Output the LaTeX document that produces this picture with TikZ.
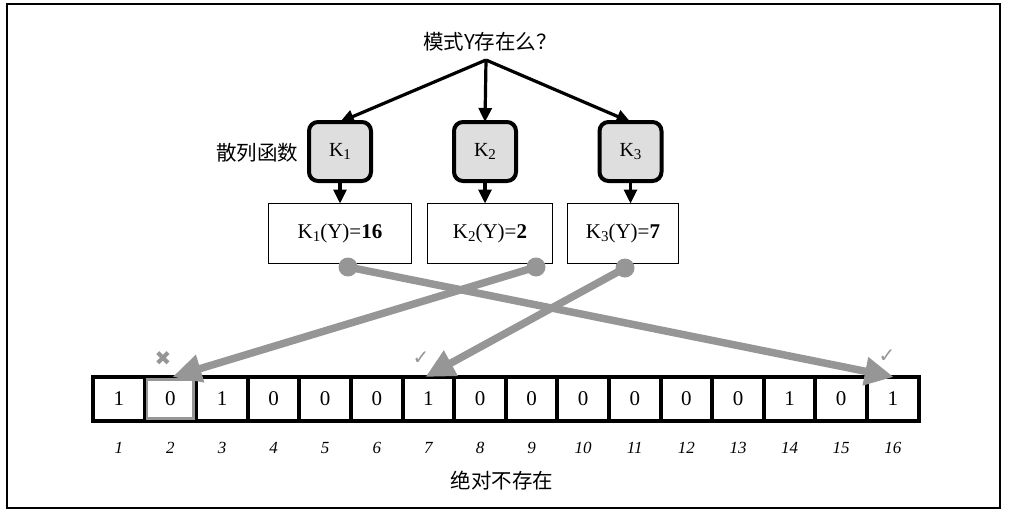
\documentclass[tikz,border=0pt]{standalone}
\usepackage{fontspec}
\setmainfont{Liberation Serif}
\newfontfamily\cjk{Noto Sans CJK SC}
\newfontfamily\symf{DejaVu Sans}
\usetikzlibrary{arrows.meta}
\definecolor{arrgray}{RGB}{150,150,150}
\definecolor{kfill}{RGB}{222,222,222}
\newcommand\ksub[1]{\raisebox{-0.35ex}{\fontsize{15}{15}\selectfont #1}}
\tikzset{
  kbox/.style={draw, line width=4pt, rounded corners=9pt, fill=kfill, minimum width=62pt, minimum height=59pt, inner sep=0pt, outer sep=0pt, font=\fontsize{20}{20}\selectfont},
  rbox/.style={draw, line width=1.6pt, minimum height=60pt, inner sep=0pt, outer sep=0pt, font=\fontsize{21}{21}\selectfont},
  cell/.style={draw, line width=4pt, minimum width=51.6pt, minimum height=44pt, inner sep=0pt, outer sep=0pt, font=\fontsize{21}{21}\selectfont},
  idx/.style={font=\fontsize{17}{17}\selectfont\itshape},
  cjktext/.style={font=\cjk\fontsize{20.5}{20.5}\selectfont},
  blackarrow/.style={line width=3.2pt, -{Triangle[length=14pt,width=13pt]}},
  grayarrow/.style={draw=arrgray, line width=7.5pt, -{Triangle[length=29pt,width=27pt]}},
  dot/.style={circle, fill=arrgray, minimum size=19pt, inner sep=0pt},
  checkmark/.style={text=arrgray, font=\symf\fontsize{20}{20}\selectfont}
}
\begin{document}
\begin{tikzpicture}[x=1pt,y=-1pt]
\useasboundingbox (0,0) rectangle (1009,514);
\draw[line width=2pt] (7,4) rectangle (1000,508);
% title
\node[cjktext] (q) at (490,42) {模式Y存在么？};
\coordinate (top) at (486,60);
% hash functions
\node[kbox] (k1) at (340,151.5) {K\ksub{1}};
\node[kbox] (k2) at (485,151.5) {K\ksub{2}};
\node[kbox] (k3) at (630.5,151.5) {K\ksub{3}};
\node[cjktext] (hf) at (257,153) {散列函数};
\draw[blackarrow] (top) -- (k1.north);
\draw[blackarrow] (top) -- (k2.north);
\draw[blackarrow] (top) -- (k3.north);
% results
\node[rbox, minimum width=143pt] (r1) at (340,233.5) {K\ksub{1}(Y)=\textbf{16}};
\node[rbox, minimum width=125pt] (r2) at (490,233.5) {K\ksub{2}(Y)=\textbf{2}};
\node[rbox, minimum width=111pt] (r3) at (623,233.5) {K\ksub{3}(Y)=\textbf{7}};
\draw[blackarrow] (k1.south) -- (k1.south |- r1.north);
\draw[blackarrow] (k2.south) -- (k2.south |- r2.north);
\draw[blackarrow] (k3.south) -- (k3.south |- r3.north);
% bit array
\foreach \i/\v in {1/1,2/0,3/1,4/0,5/0,6/0,7/1,8/0,9/0,10/0,11/0,12/0,13/0,14/1,15/0,16/1} {
  \node[cell] (c\i) at ({93+(\i-0.5)*51.6},399) {\v};
  \node[idx] (n\i) at ({93+(\i-0.5)*51.6},448) {\i};
}
\draw[arrgray, line width=2.5pt] ([xshift=2.5pt,yshift=-2.5pt]c2.north west) rectangle ([xshift=-2.5pt,yshift=2.5pt]c2.south east);
\node[cjktext] (no) at (502,481) {绝对不存在};
% dots and gray arrows
\node[dot] (d1) at (348,267) {};
\node[dot] (d2) at (536,267) {};
\node[dot] (d3) at (625,268) {};
\draw[grayarrow] (d1.center) -- ([xshift=1pt]c16.north);
\draw[grayarrow] (d2.center) -- ([xshift=2pt]c2.north);
\draw[grayarrow] (d3.center) -- ([xshift=-3pt]c7.north);
% marks
\node[checkmark] (x2) at (163,359) {✖};
\node[checkmark] (ok7) at (421,358) {✓};
\node[checkmark] (ok16) at (887,356) {✓};
\end{tikzpicture}
\end{document}
